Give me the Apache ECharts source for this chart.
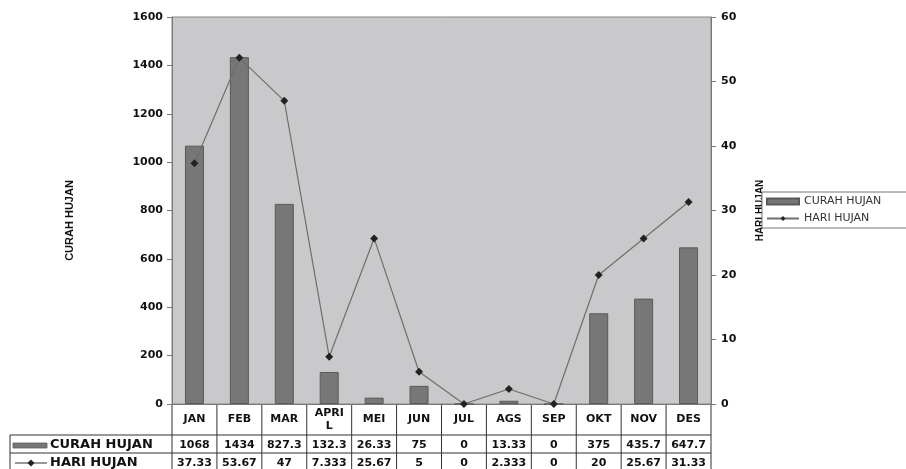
<!DOCTYPE html>
<html>
<head>
<meta charset="utf-8">
<script src="https://cdn.jsdelivr.net/npm/echarts@6/dist/echarts.min.js"></script>
<style>
html,body{margin:0;padding:0;background:#fff;}
#c{width:906px;height:469px;}
</style>
</head>
<body>
<div id="c"></div>
<script>
const categories = ['JAN','FEB','MAR','APRIL','MEI','JUN','JUL','AGS','SEP','OKT','NOV','DES'];
const curahHujan = [1068, 1434, 827.3, 132.3, 26.33, 75, 0, 13.33, 0, 375, 435.7, 647.7];
const hariHujan = [37.33, 53.67, 47, 7.333, 25.67, 5, 0, 2.333, 0, 20, 25.67, 31.33];
const seriesNames = ['CURAH HUJAN', 'HARI HUJAN'];

const GRID = {left: 172, top: 17, right: 195, bottom: 65};
const NUMFONT = 'DejaVu Sans';
const tickStyle = {color: '#111', fontFamily: NUMFONT, fontWeight: 'bold', fontSize: 11, formatter: v => String(v)};
const titleStyle = {fontFamily: 'Liberation Sans', fontWeight: 'bold', fontSize: 11, color: '#111'};

const chart = echarts.init(document.getElementById('c'), null, {renderer: 'canvas'});
chart.setOption({
  animation: false,
  backgroundColor: '#fff',
  grid: Object.assign({show: true, backgroundColor: '#c9c9cb', borderColor: '#888', borderWidth: 1, containLabel: false}, GRID),
  legend: {
    data: [{name: seriesNames[0], icon: 'rect'}, {name: seriesNames[1]}],
    orient: 'vertical',
    left: 762, top: 192,
    itemWidth: 32, itemHeight: 6, itemGap: 6,
    padding: [4, 30, 4, 4],
    backgroundColor: '#fff', borderColor: '#777', borderWidth: 1, borderRadius: 0,
    textStyle: {fontFamily: NUMFONT, fontSize: 11, color: '#333'},
    z: 10
  },
  xAxis: {
    type: 'category', data: categories, boundaryGap: true,
    axisLine: {show: true, lineStyle: {color: '#777', width: 1}},
    axisTick: {show: false}, axisLabel: {show: false}, splitLine: {show: false}
  },
  yAxis: [{
    type: 'value', min: 0, max: 1600, interval: 200, position: 'left',
    name: 'CURAH HUJAN', nameLocation: 'middle', nameGap: 97, nameRotate: 90,
    nameTextStyle: Object.assign({}, titleStyle, {padding: [0, 20, 0, 0]}),
    axisLine: {show: true, lineStyle: {color: '#777'}},
    axisTick: {show: true, length: 5, inside: false, lineStyle: {color: '#777'}},
    axisLabel: Object.assign({margin: 9}, tickStyle),
    splitLine: {show: false}
  }, {
    type: 'value', min: 0, max: 60, interval: 10, position: 'right',
    name: 'HARI HUJAN', nameLocation: 'middle', nameGap: 44, nameRotate: 90,
    nameTextStyle: Object.assign({}, titleStyle, {fontSize: 10}),
    axisLine: {show: true, lineStyle: {color: '#777'}},
    axisTick: {show: true, length: 5, inside: false, lineStyle: {color: '#777'}},
    axisLabel: Object.assign({margin: 10}, tickStyle),
    splitLine: {show: false}
  }],
  series: [{
    name: seriesNames[0], type: 'bar', data: curahHujan, yAxisIndex: 0,
    barWidth: 19,
    itemStyle: {color: '#777777', borderColor: '#5a5a5a', borderWidth: 1}
  }, {
    name: seriesNames[1], type: 'line', data: hariHujan, yAxisIndex: 1,
    symbol: 'diamond', symbolSize: 8,
    lineStyle: {color: '#6e6e6e', width: 1.2},
    itemStyle: {color: '#222'}
  }]
});

// Data table beneath the plot, positioned from the category axis
const c0 = chart.convertToPixel({xAxisIndex: 0}, 0);
const c1 = chart.convertToPixel({xAxisIndex: 0}, 1);
const band = c1 - c0;
const xL = c0 - band / 2;
const xR = xL + band * categories.length;
const yAxisBase = chart.convertToPixel({yAxisIndex: 0}, 0);
const row1 = yAxisBase + 31, row2 = row1 + 18, row3 = row2 + 18;
const tableLeft = 10;
const lineCol = '#333';
const g = [];
function hline(x1, x2, y) { g.push({type: 'line', shape: {x1, y1: y, x2, y2: y}, style: {stroke: lineCol, lineWidth: 1}, silent: true}); }
function vline(x, y1, y2) { g.push({type: 'line', shape: {x1: x, y1, x2: x, y2}, style: {stroke: lineCol, lineWidth: 1}, silent: true}); }
function txt(t, x, y, opts) {
  g.push({type: 'text', silent: true, style: Object.assign({text: t, x, y, align: 'center', verticalAlign: 'middle',
    fill: '#111', font: 'bold 11px "DejaVu Sans"'}, opts || {})});
}
hline(tableLeft, xR, row1);
hline(tableLeft, xR, row2);
vline(tableLeft, row1, row3 + 4);
for (let i = 0; i <= categories.length; i++) vline(xL + band * i, yAxisBase, row3 + 4);
categories.forEach((cat, i) => {
  const cx = chart.convertToPixel({xAxisIndex: 0}, i);
  txt(cat, cx, (yAxisBase + row1) / 2, {width: 33, overflow: 'breakAll', lineHeight: 13});
  txt(String(curahHujan[i]), cx, (row1 + row2) / 2 + 1);
  txt(String(hariHujan[i]), cx, (row2 + row3) / 2 + 1);
});
// row keys
const k2 = (row1 + row2) / 2 + 1, k3 = (row2 + row3) / 2 + 1;
g.push({type: 'rect', silent: true, shape: {x: 13, y: k2 - 2, width: 34, height: 5}, style: {fill: '#777', stroke: '#5a5a5a', lineWidth: 0.8}});
txt(seriesNames[0], 50, k2, {align: 'left', font: 'bold 13px "DejaVu Sans"'});
hline(15, 47, k3);
g.push({type: 'polygon', silent: true, shape: {points: [[31, k3 - 3.5], [34.5, k3], [31, k3 + 3.5], [27.5, k3]]}, style: {fill: '#222'}});
txt(seriesNames[1], 50, k3, {align: 'left', font: 'bold 13px "DejaVu Sans"'});

chart.setOption({graphic: g});
</script>
</body>
</html>
